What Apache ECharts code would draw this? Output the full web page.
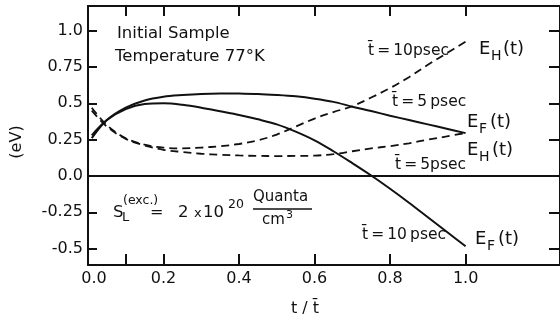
<!DOCTYPE html>
<html>
<head>
<meta charset="utf-8">
<script src="https://cdn.jsdelivr.net/npm/echarts@6/dist/echarts.min.js"></script>
<style>
  html, body { margin: 0; padding: 0; background: #fff; }
  #chart { width: 560px; height: 322px; }
</style>
</head>
<body>
<div id="chart"></div>
<script>
// t / t-bar sample points shared by all four curves
const tGrid  = [0.01, 0.05, 0.1, 0.15, 0.2, 0.25, 0.3, 0.35, 0.4, 0.45, 0.5, 0.55, 0.6, 0.65, 0.7, 0.75, 0.8, 0.85, 0.9, 0.95, 1.0]

// E_F(t), solid
const efFive = [0.26, 0.385, 0.47, 0.52, 0.545, 0.557, 0.565, 0.568, 0.567, 0.565, 0.558, 0.548, 0.532, 0.51, 0.477, 0.447, 0.415, 0.385, 0.355, 0.325, 0.295]
const efTen  = [0.28, 0.385, 0.46, 0.495, 0.50, 0.49, 0.47, 0.445, 0.42, 0.39, 0.355, 0.305, 0.245, 0.17, 0.088, 0.003, -0.088, -0.184, -0.284, -0.384, -0.484]

// E_H(t), dashed
const ehFive = [0.45, 0.34, 0.255, 0.21, 0.18, 0.165, 0.153, 0.146, 0.141, 0.138, 0.137, 0.138, 0.14, 0.15, 0.17, 0.19, 0.205, 0.225, 0.25, 0.272, 0.296]
const ehTen  = [0.47, 0.35, 0.26, 0.215, 0.195, 0.19, 0.195, 0.205, 0.22, 0.245, 0.285, 0.34, 0.395, 0.44, 0.48, 0.54, 0.605, 0.68, 0.765, 0.845, 0.925]

// axis ticks / labels
const xTickVals  = [0.1, 0.2, 0.4, 0.6, 0.8, 1.0]
const xLabelVals = [0, 0.2, 0.4, 0.6, 0.8, 1.0]
const yTickVals  = [1.0, 0.75, 0.5, 0.25, 0, -0.25, -0.5]
const yTickText  = ['1.0', '0.75', '0.5', '0.25', '0.0', '-0.25', '-0.5']
const yRightTicks = [1.0, 0.75, 0.5, 0.25, -0.25, -0.5]

const FONT = '"DejaVu Sans", sans-serif'
const INK = '#111'
const TS = '\u2009' // thin space used in the "t̄ = ..psec" notes

function pairs(vals) {
  return tGrid.map((t, i) => [t, vals[i]])
}

function txt(x, y, s, size, align) {
  const a = align || 'left'
  return {
    type: 'text', x, y, silent: true,
    style: {
      text: s, font: `${size}px ${FONT}`, fill: INK,
      align: a, verticalAlign: 'middle',
      textAlign: a, textVerticalAlign: 'middle',
    },
  }
}

const chart = echarts.init(document.getElementById('chart'), null, { renderer: 'canvas' })

const xBase = { type: 'value', min: 0, max: 1.25, splitLine: { show: false } }
const yBase = { type: 'value', min: -0.613, max: 1.17, splitLine: { show: false } }
const axisLine = { show: true, onZero: false, lineStyle: { color: INK, width: 2 } }

const solid  = { color: INK, width: 2 }
const dashed = { color: INK, width: 1.8, type: [8, 5] }

const eVLabel = txt(17, 142, '(eV)', 16, 'center')
eVLabel.rotation = Math.PI / 2

chart.setOption({
  backgroundColor: '#fff',
  animation: false,
  grid: { left: 88, top: 6, width: 476, height: 259 },
  xAxis: [
    {
      ...xBase, position: 'bottom', axisLine,
      axisTick: { show: true, inside: true, length: 11, customValues: xTickVals, lineStyle: { color: INK, width: 2 } },
      axisLabel: {
        customValues: xLabelVals, margin: 6, color: INK, fontFamily: FONT, fontSize: 16,
        formatter: (v) => v === 0 ? '{z|0.0}' : v.toFixed(1),
        rich: { z: { padding: [0, 0, 0, 12], fontFamily: FONT, fontSize: 16, color: INK } },
      },
    },
    {
      ...xBase, position: 'top', axisLine,
      axisTick: { show: true, inside: true, length: 10, customValues: xTickVals, lineStyle: { color: INK, width: 2 } },
      axisLabel: { show: false },
    },
  ],
  yAxis: [
    {
      ...yBase, position: 'left', axisLine,
      axisTick: { show: true, inside: true, length: 9, customValues: yTickVals, lineStyle: { color: INK, width: 2 } },
      axisLabel: {
        customValues: yTickVals, margin: 5, color: INK, fontFamily: FONT, fontSize: 16,
        formatter: (v) => yTickText[yTickVals.indexOf(v)] ?? '',
      },
    },
    {
      ...yBase, position: 'right', axisLine,
      axisTick: { show: true, inside: true, length: 11, customValues: yRightTicks, lineStyle: { color: INK, width: 2 } },
      axisLabel: { show: false },
    },
  ],
  series: [
    {
      name: 'E_F 5psec', type: 'line', data: pairs(efFive),
      symbol: 'none', smooth: 0.35, lineStyle: solid, color: INK,
      markLine: {
        silent: true, symbol: ['none', 'none'], label: { show: false },
        lineStyle: { color: INK, width: 2, type: 'solid' },
        data: [{ yAxis: 0 }],
      },
    },
    { name: 'E_F 10psec', type: 'line', data: pairs(efTen),  symbol: 'none', smooth: 0.35, lineStyle: solid,  color: INK },
    { name: 'E_H 5psec',  type: 'line', data: pairs(ehFive), symbol: 'none', smooth: 0.35, lineStyle: dashed, color: INK },
    { name: 'E_H 10psec', type: 'line', data: pairs(ehTen),  symbol: 'none', smooth: 0.35, lineStyle: dashed, color: INK },
  ],
  graphic: [
    txt(117, 34, 'Initial Sample', 16.5),
    txt(115, 57, 'Temperature 77°K', 16.5),

    txt(368, 51, `t̄${TS}=${TS}10psec`, 15.5),
    txt(479, 49, 'E', 18), txt(491, 56, 'H', 14), txt(503, 49, '(t)', 18),

    txt(392, 102, `t̄${TS}=${TS}5${TS}psec`, 15.5),
    txt(467, 122, 'E', 18), txt(479, 129, 'F', 14), txt(490, 122, '(t)', 18),
    txt(467, 150, 'E', 18), txt(479, 157, 'H', 14), txt(492, 150, '(t)', 18),
    txt(395, 165, `t̄${TS}=${TS}5psec`, 15.5),

    txt(113, 213, 'S', 16.5), txt(122, 218, 'L', 13), txt(123, 201, '(exc.)', 12.5),
    txt(150, 213, '=', 16), txt(178, 213, '2', 16.5), txt(194, 214, 'x', 13),
    txt(203, 213, '10', 16.5), txt(228, 205, '20', 12.5),
    txt(253, 197, 'Quanta', 15),
    { type: 'line', silent: true, shape: { x1: 253, y1: 209, x2: 312, y2: 209 }, style: { stroke: INK, lineWidth: 1.5 } },
    txt(262, 220, 'cm', 15), txt(286, 215, '3', 11),

    txt(362, 235, `t̄${TS}=${TS}10${TS}psec`, 15.5),
    txt(475, 239, 'E', 18), txt(487, 246, 'F', 14), txt(498, 239, '(t)', 18),

    eVLabel,
    txt(305, 309, 't / t̄', 16, 'center'),
  ],
})
</script>
</body>
</html>
